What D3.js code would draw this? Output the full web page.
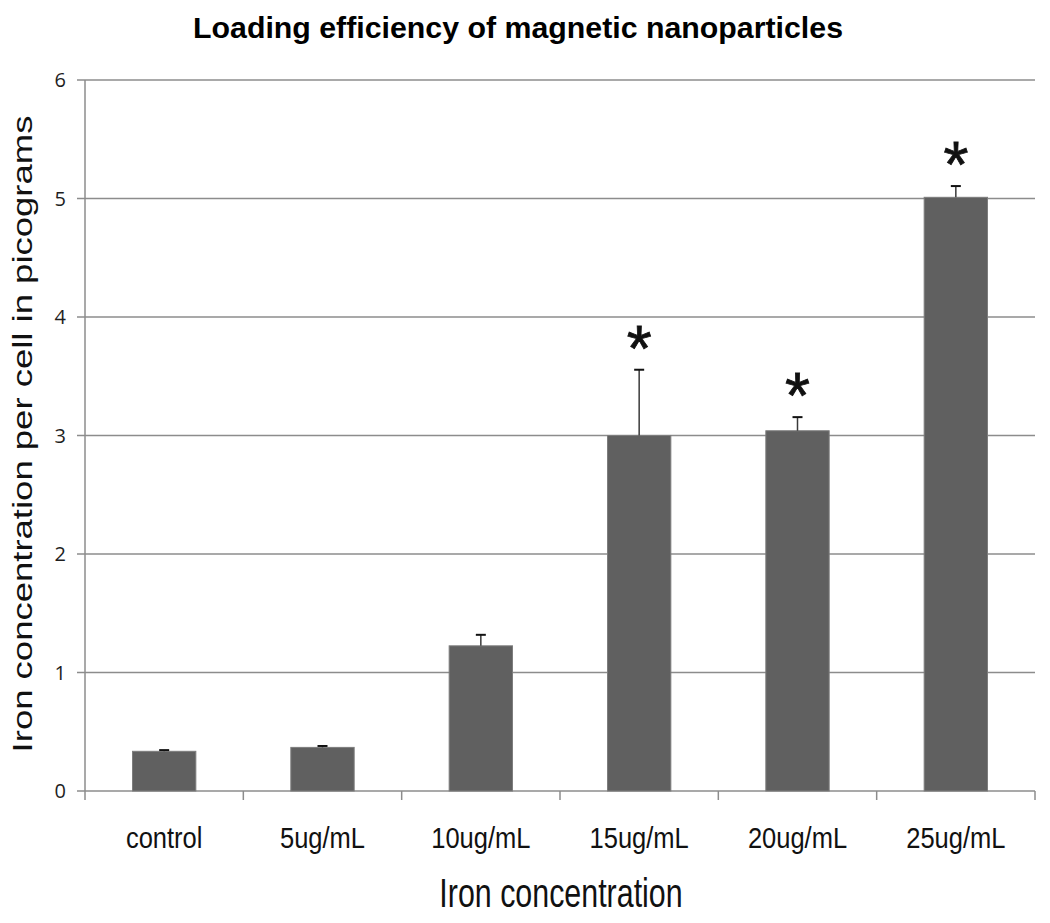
<!DOCTYPE html>
<html>
<head>
<meta charset="utf-8">
<script src="https://cdn.jsdelivr.net/npm/d3@7"></script>
<style>
  html, body { margin: 0; padding: 0; background: #fff; }
  svg { display: block; }
</style>
</head>
<body>
<svg id="chart" width="1050" height="923"></svg>
<script>
// ---- data ----
const categories = ["control", "5ug/mL", "10ug/mL", "15ug/mL", "20ug/mL", "25ug/mL"];
const values     = [0.335, 0.368, 1.225, 3.00, 3.04, 5.01];
const errors     = [0.010, 0.012, 0.093, 0.555, 0.115, 0.095];
const significant = [false, false, false, true, true, true];
const yTicks     = [0, 1, 2, 3, 4, 5, 6];
const titleText  = "Loading efficiency of magnetic nanoparticles";
const xTitleText = "Iron concentration";
const yTitleText = "Iron concentration per cell in picograms";

const svg = d3.select("#chart");
const W = 1050, H = 923;
svg.append("rect").attr("width", W).attr("height", H).attr("fill", "#fff");

const plot = { left: 85, right: 1035, top: 80, bottom: 791 };

const x = d3.scaleBand().domain(categories).range([plot.left, plot.right]).padding(0);
const y = d3.scaleLinear().domain([0, 6]).range([plot.bottom, plot.top]);

// gridlines + y ticks
const gridColor = "#8c8c8c";
svg.append("g").selectAll("line").data(yTicks).join("line")
  .attr("x1", plot.left - 8).attr("x2", plot.right)
  .attr("y1", d => y(d)).attr("y2", d => y(d))
  .attr("stroke", gridColor).attr("stroke-width", 1.5);

svg.append("g").selectAll("text").data(yTicks).join("text")
  .attr("x", 66).attr("y", d => y(d)).attr("dy", "0.36em")
  .attr("text-anchor", "end")
  .attr("font-family", "'Open Sans', 'Noto Sans', sans-serif")
  .attr("font-size", 20).attr("fill", "#1e1e1e")
  .text(d => d);

// y axis line
svg.append("line")
  .attr("x1", plot.left).attr("x2", plot.left)
  .attr("y1", plot.top).attr("y2", plot.bottom + 9)
  .attr("stroke", gridColor).attr("stroke-width", 1.5);

// x category ticks at band boundaries
const boundaries = categories.map(c => x(c)).concat([x(categories[categories.length - 1]) + x.bandwidth()]);
svg.append("g").selectAll("line").data(boundaries.slice(1)).join("line")
  .attr("x1", d => d).attr("x2", d => d)
  .attr("y1", plot.bottom).attr("y2", plot.bottom + 9)
  .attr("stroke", gridColor).attr("stroke-width", 1.5);

// bars
const barW = x.bandwidth() * 0.4;
const cx = c => x(c) + x.bandwidth() / 2;
svg.append("g").selectAll("rect").data(categories).join("rect")
  .attr("x", c => cx(c) - barW / 2)
  .attr("width", barW)
  .attr("y", (c, i) => y(values[i]))
  .attr("height", (c, i) => y(0) - y(values[i]))
  .attr("fill", "#606060")
  .attr("stroke", "#7d7d7d").attr("stroke-width", 1);

// error bars
const eb = svg.append("g");
categories.forEach((c, i) => {
  const top = y(values[i] + errors[i]);
  eb.append("line")
    .attr("x1", cx(c)).attr("x2", cx(c))
    .attr("y1", y(values[i])).attr("y2", top)
    .attr("stroke", "#3a3a3a").attr("stroke-width", 1.5);
  eb.append("line")
    .attr("x1", cx(c) - 5).attr("x2", cx(c) + 5)
    .attr("y1", top).attr("y2", top)
    .attr("stroke", "#111").attr("stroke-width", 2);
});

// significance stars
const starSize = 64;
svg.append("g").selectAll("text").data(categories.filter((c, i) => significant[i])).join("text")
  .attr("x", c => cx(c))
  .attr("y", c => { const i = categories.indexOf(c); return y(values[i] + errors[i]) - 36 + 0.575 * starSize; })
  .attr("text-anchor", "middle")
  .attr("font-family", "'Liberation Sans', Arial, sans-serif")
  .attr("font-size", starSize).attr("fill", "#111")
  .attr("stroke", "#111").attr("stroke-width", 0.8)
  .text("*");

// x category labels
svg.append("g").selectAll("text").data(categories).join("text")
  .attr("transform", c => `translate(${cx(c)},848) scale(0.85,1)`)
  .attr("text-anchor", "middle")
  .attr("font-family", "'Liberation Sans', Arial, sans-serif")
  .attr("font-size", 30).attr("fill", "#111")
  .text(c => c);

// title
svg.append("text")
  .attr("x", 518).attr("y", 38)
  .attr("text-anchor", "middle")
  .attr("font-family", "'Liberation Sans', Arial, sans-serif")
  .attr("font-weight", "bold")
  .attr("font-size", 30).attr("fill", "#000")
  .attr("textLength", 650).attr("lengthAdjust", "spacingAndGlyphs")
  .text(titleText);

// x axis title
svg.append("text")
  .attr("transform", "translate(561,907) scale(0.76,1)")
  .attr("text-anchor", "middle")
  .attr("font-family", "'Liberation Sans', Arial, sans-serif")
  .attr("font-size", 40).attr("fill", "#111")
  .text(xTitleText);

// y axis title
svg.append("text")
  .attr("transform", "translate(32,434) scale(0.77,1) rotate(-90)")
  .attr("text-anchor", "middle")
  .attr("font-family", "'Liberation Sans', Arial, sans-serif")
  .attr("font-size", 36.5).attr("fill", "#111")
  .text(yTitleText);
</script>
</body>
</html>
